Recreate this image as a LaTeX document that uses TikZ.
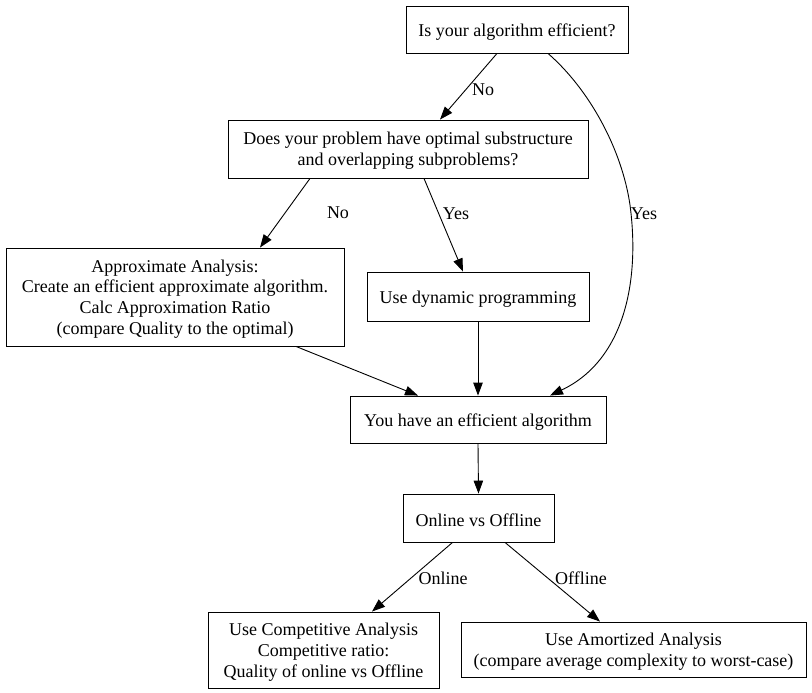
\documentclass[tikz,border=0pt]{standalone}
\usepackage{fontspec}
\setmainfont{Liberation Serif}
\usetikzlibrary{arrows.meta,calc}
\begin{document}
\begin{tikzpicture}[x=1pt,y=-1pt,
  box/.style={draw,line width=0.9pt,rectangle,inner sep=0pt},
  txt/.style={inner sep=0pt,align=center,font=\fontsize{18}{20.7}\selectfont},
  lbl/.style={font=\fontsize{18}{20.7}\selectfont,inner sep=0pt},
  edge/.style={line width=0.9pt,-{Triangle[length=13pt,width=9.5pt]}}]
\useasboundingbox (0,0) rectangle (812,693);
\node[box,minimum width=222pt,minimum height=47pt] (n1) at (517,29.5) {};
\node[txt] (t1) at ($(n1)+(0,2.5)$) {Is your algorithm efficient?};
\node[box,minimum width=360pt,minimum height=58pt] (n2) at (408,149) {};
\node[txt] (t2) at ($(n2)+(0,2)$) {Does your problem have optimal substructure\\and overlapping subproblems?};
\node[box,minimum width=338pt,minimum height=98pt] (n3) at (175,297) {};
\node[txt] (t3) at ($(n3)+(0,2)$) {Approximate Analysis:\\Create an efficient approximate algorithm.\\Calc Approximation Ratio\\(compare Quality to the optimal)};
\node[box,minimum width=222pt,minimum height=49pt] (n4) at (478,296.5) {};
\node[txt] (t4) at ($(n4)+(0,2.5)$) {Use dynamic programming};
\node[box,minimum width=256pt,minimum height=47pt] (n5) at (478,419.5) {};
\node[txt] (t5) at ($(n5)+(0,2.5)$) {You have an efficient algorithm};
\node[box,minimum width=151pt,minimum height=48pt] (n6) at (478.5,518) {};
\node[txt] (t6) at ($(n6)+(0,2.5)$) {Online vs Offline};
\node[box,minimum width=231pt,minimum height=76pt] (n7) at (323.5,650) {};
\node[txt] (t7) at ($(n7)+(0,2)$) {Use Competitive Analysis\\Competitive ratio:\\Quality of online vs Offline};
\node[box,minimum width=345pt,minimum height=55pt] (n8) at (633.5,649.5) {};
\node[txt] (t8) at ($(n8)+(0,2)$) {Use Amortized Analysis\\(compare average complexity to worst-case)};

\draw[edge] ($(n1.south)+(-20,0)$) -- ($(n2.north)+(32,0)$);
\node[lbl] (l1) at (483,90) {No};
\draw[edge] ($(n1.south)+(31,0)$) .. controls (590,90) and (622,150) .. (630,205)
  .. controls (640,280) and (625,360) .. ($(n5.north)+(72,0)$);
\node[lbl] (l2) at (644,214) {Yes};
\draw[edge] ($(n2.south)+(-98,0)$) -- ($(n3.north)+(85,0)$);
\node[lbl] (l3) at (338,213) {No};
\draw[edge] ($(n2.south)+(16,0)$) -- ($(n4.north)+(-15,0)$);
\node[lbl] (l4) at (456,214) {Yes};
\draw[edge] ($(n3.south)+(121,0)$) -- ($(n5.north)+(-60,0)$);
\draw[edge] (n4.south) -- (n5.north);
\draw[edge] (n5.south) -- (n6.north);
\draw[edge] ($(n6.south)+(-26,0)$) -- ($(n7.north)+(48.5,0)$);
\node[lbl] (l5) at (443,578) {Online};
\draw[edge] ($(n6.south)+(26.5,0)$) -- ($(n8.north)+(-33.5,0)$);
\node[lbl] (l6) at (581,578) {Offline};
\end{tikzpicture}
\end{document}
